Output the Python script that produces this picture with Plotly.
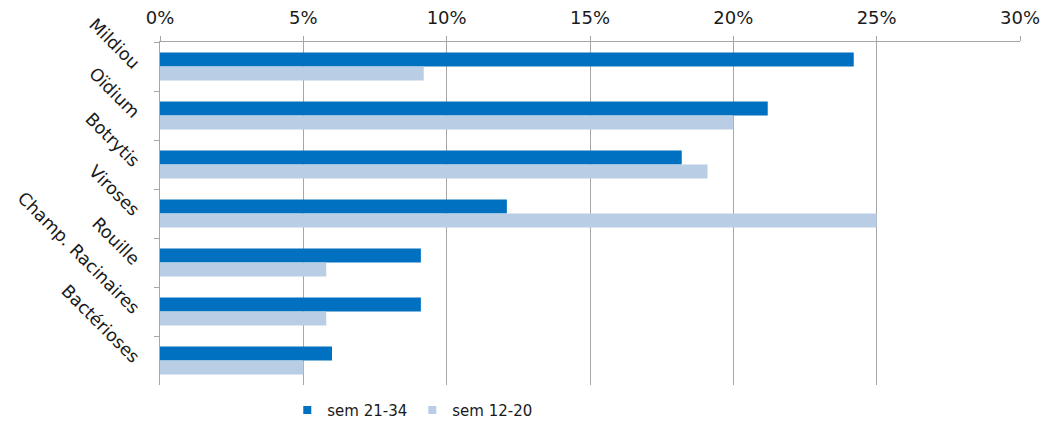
import plotly.graph_objects as go

categories = ["Mildiou", "Oïdium", "Botrytis", "Viroses", "Rouille",
              "Champ. Racinaires", "Bactérioses"]
sem_21_34 = [0.242, 0.212, 0.182, 0.121, 0.091, 0.091, 0.060]
sem_12_20 = [0.092, 0.200, 0.191, 0.250, 0.058, 0.058, 0.050]
series_names = ["sem 21-34", "sem 12-20"]
series_colors = ["#0070C0", "#B9CDE5"]
x_ticks = [0, 0.05, 0.10, 0.15, 0.20, 0.25, 0.30]
x_tick_labels = ["0%", "5%", "10%", "15%", "20%", "25%", "30%"]

font_family = "DejaVu Sans, Verdana, sans-serif"

fig = go.Figure()
for name, values, color in zip(series_names, [sem_21_34, sem_12_20], series_colors):
    fig.add_trace(go.Bar(
        y=categories, x=values, orientation="h", name=name,
        marker=dict(color=color, line=dict(width=0)),
        legendgroup=name, showlegend=False,
    ))
# small square swatches for the legend
for name, color in zip(series_names, series_colors):
    fig.add_trace(go.Scatter(
        x=[None], y=[None], mode="markers", name=name, legendgroup=name,
        marker=dict(symbol="square", size=8, color=color),
    ))

fig.update_layout(
    width=1043, height=423,
    margin=dict(l=160, r=23, t=42, b=38, autoexpand=False),
    paper_bgcolor="white", plot_bgcolor="white",
    barmode="group", bargap=0.43, bargroupgap=0,
    font=dict(family=font_family, color="#1a1a1a"),
    legend=dict(
        orientation="h", x=0.148, y=0.03, xanchor="left", yanchor="middle",
        yref="container",
        font=dict(size=15, family=font_family), itemwidth=30,
        traceorder="normal",
    ),
    xaxis=dict(
        side="top", range=[0, 0.30], tickvals=x_ticks, ticktext=x_tick_labels,
        showgrid=True, gridcolor="#A6A6A6", gridwidth=1,
        showline=True, linecolor="#A6A6A6", linewidth=1,
        ticks="outside", ticklen=5, tickcolor="#A6A6A6",
        tickfont=dict(size=18), zeroline=False, fixedrange=True,
        automargin=False, ticklabelstandoff=5,
    ),
    yaxis=dict(
        autorange="reversed", tickangle=45,
        showline=True, linecolor="#A6A6A6", linewidth=1,
        ticks="outside", ticklen=5, tickcolor="#A6A6A6", tickson="boundaries",
        tickfont=dict(size=17.5), showgrid=False, fixedrange=True,
        automargin=False, ticklabelstandoff=17,
    ),
)

fig.write_html("out.html")
